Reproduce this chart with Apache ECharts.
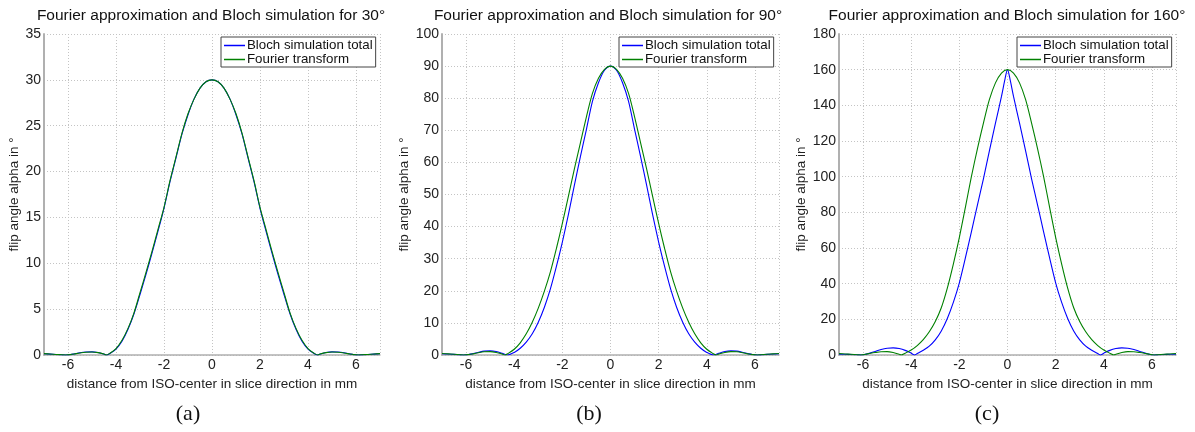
<!DOCTYPE html>
<html><head><meta charset="utf-8">
<script src="https://cdn.jsdelivr.net/npm/echarts@6/dist/echarts.min.js"></script>
<style>html,body{margin:0;padding:0;background:#fff}#c{width:1195px;height:432px}</style>
</head><body><div id="c"></div><script>
const chartTitles = ['Fourier approximation and Bloch simulation for 30°','Fourier approximation and Bloch simulation for 90°','Fourier approximation and Bloch simulation for 160°'];
const captions = ['(a)','(b)','(c)'];
const seriesNames = ['Bloch simulation total','Fourier transform'];
const xName = 'distance from ISO-center in slice direction in mm';
const yName = 'flip angle alpha in °';
const xTickLabels = [-6,-4,-2,0,2,4,6];
const xGridLines = [-7,-6,-4,-2,0,2,4,6,7];
const yMaxes = [35,100,180];
const yIntervals = [5,10,20];

const bloch30 = [[-7,0.14],[-6.75,0.1],[-6.5,0.05],[-6.25,0.01],[-6.08,0],[-5.9,0.04],[-5.75,0.11],[-5.5,0.24],[-5.25,0.32],[-5,0.34],[-4.75,0.27],[-4.5,0.1],[-4.39,0],[-4.25,0.18],[-4,0.65],[-3.75,1.5],[-3.5,2.8],[-3.25,4.5],[-3,6.6],[-2.75,8.8],[-2.5,11.1],[-2.25,13.5],[-2,16.0],[-1.75,18.9],[-1.5,21.5],[-1.25,24.1],[-1,26.2],[-0.75,27.9],[-0.5,29.1],[-0.25,29.8],[0,30],
 [0.25,29.8],[0.5,29.1],[0.75,27.9],[1,26.2],[1.25,24.1],[1.5,21.5],[1.75,18.9],[2,16.0],[2.25,13.5],[2.5,11.1],[2.75,8.8],[3,6.6],[3.25,4.5],[3.5,2.8],[3.75,1.5],[4,0.65],[4.25,0.18],[4.39,0],[4.5,0.1],[4.75,0.27],[5,0.34],[5.25,0.32],[5.5,0.24],[5.75,0.11],[5.9,0.04],[6.08,0],[6.25,0.01],[6.5,0.05],[6.75,0.1],[7,0.14]];
const fourier30 = [[-7,0.15],[-6.75,0.11],[-6.5,0.06],[-6.25,0.02],[-6.1,0],[-5.9,0.04],[-5.75,0.1],[-5.5,0.22],[-5.25,0.3],[-5,0.33],[-4.75,0.26],[-4.5,0.1],[-4.41,0],[-4.25,0.2],[-4,0.7],[-3.75,1.6],[-3.5,2.9],[-3.25,4.6],[-3,6.8],[-2.75,9.0],[-2.5,11.3],[-2.25,13.7],[-2,16.1],[-1.75,19.0],[-1.5,21.6],[-1.25,24.2],[-1,26.3],[-0.75,27.9],[-0.5,29.1],[-0.25,29.8],[0,30],
 [0.25,29.8],[0.5,29.1],[0.75,27.9],[1,26.3],[1.25,24.2],[1.5,21.6],[1.75,19.0],[2,16.1],[2.25,13.7],[2.5,11.3],[2.75,9.0],[3,6.8],[3.25,4.6],[3.5,2.9],[3.75,1.6],[4,0.7],[4.25,0.2],[4.41,0],[4.5,0.1],[4.75,0.26],[5,0.33],[5.25,0.3],[5.5,0.22],[5.75,0.1],[5.9,0.04],[6.1,0],[6.25,0.02],[6.5,0.06],[6.75,0.11],[7,0.15]];
const bloch90 = [[-7,0.4],[-6.75,0.3],[-6.5,0.18],[-6.25,0.05],[-6.1,0],[-5.9,0.15],[-5.75,0.35],[-5.5,0.8],[-5.25,1.2],[-5,1.3],[-4.75,1.1],[-4.5,0.55],[-4.29,0],[-4,0.8],[-3.75,2.1],[-3.5,4.0],[-3.25,6.6],[-3,10.2],[-2.75,14.8],[-2.5,20.5],[-2.25,27.5],[-2,35.2],[-1.75,43.7],[-1.5,52.9],[-1.25,61.8],[-1,70.3],[-0.75,79],[-0.5,84.8],[-0.25,88.7],[0,90],
 [0.25,88.7],[0.5,84.8],[0.75,79],[1,70.3],[1.25,61.8],[1.5,52.9],[1.75,43.7],[2,35.2],[2.25,27.5],[2.5,20.5],[2.75,14.8],[3,10.2],[3.25,6.6],[3.5,4.0],[3.75,2.1],[4,0.8],[4.29,0],[4.5,0.55],[4.75,1.1],[5,1.3],[5.25,1.2],[5.5,0.8],[5.75,0.35],[5.9,0.15],[6.1,0],[6.25,0.05],[6.5,0.18],[6.75,0.3],[7,0.4]];
const fourier90 = [[-7,0.45],[-6.75,0.35],[-6.5,0.22],[-6.25,0.07],[-6.1,0],[-5.9,0.12],[-5.75,0.3],[-5.5,0.7],[-5.25,1.0],[-5,1.05],[-4.75,0.8],[-4.5,0.3],[-4.38,0],[-4.25,0.5],[-4,1.8],[-3.75,3.8],[-3.5,6.6],[-3.25,10.2],[-3,14.6],[-2.75,19.8],[-2.5,25.8],[-2.25,33.1],[-2,41],[-1.75,49.4],[-1.5,58],[-1.25,66.1],[-1,74.2],[-0.75,81.5],[-0.5,86.2],[-0.25,89],[0,90],
 [0.25,89],[0.5,86.2],[0.75,81.5],[1,74.2],[1.25,66.1],[1.5,58],[1.75,49.4],[2,41],[2.25,33.1],[2.5,25.8],[2.75,19.8],[3,14.6],[3.25,10.2],[3.5,6.6],[3.75,3.8],[4,1.8],[4.25,0.5],[4.38,0],[4.5,0.3],[4.75,0.8],[5,1.05],[5.25,1.0],[5.5,0.7],[5.75,0.3],[5.9,0.12],[6.1,0],[6.25,0.07],[6.5,0.22],[6.75,0.35],[7,0.45]];
const bloch160 = [[-7,0.5],[-6.75,0.4],[-6.5,0.25],[-6.25,0.1],[-6.05,0],[-5.75,0.9],[-5.5,2.0],[-5.25,3.1],[-5,3.8],[-4.75,4.0],[-4.5,3.6],[-4.25,2.6],[-4,1.0],[-3.86,0],[-3.75,0.8],[-3.5,2.7],[-3.25,5.0],[-3,8.5],[-2.75,13.5],[-2.5,20.5],[-2.25,29.5],[-2,40.5],[-1.75,54.4],[-1.5,69.1],[-1.25,84.1],[-1,98.8],[-0.75,114.6],[-0.5,130],[-0.25,145],[-0.1,155],[0,160],
 [0.1,155],[0.25,145],[0.5,130],[0.75,114.6],[1,98.8],[1.25,84.1],[1.5,69.1],[1.75,54.4],[2,40.5],[2.25,29.5],[2.5,20.5],[2.75,13.5],[3,8.5],[3.25,5.0],[3.5,2.7],[3.75,0.8],[3.86,0],[4,1.0],[4.25,2.6],[4.5,3.6],[4.75,4.0],[5,3.8],[5.25,3.1],[5.5,2.0],[5.75,0.9],[6.05,0],[6.25,0.1],[6.5,0.25],[6.75,0.4],[7,0.5]];
const fourier160 = [[-7,0.75],[-6.75,0.6],[-6.5,0.38],[-6.25,0.12],[-6.1,0],[-5.9,0.4],[-5.75,0.8],[-5.5,1.4],[-5.25,1.85],[-5,1.9],[-4.75,1.4],[-4.5,0.45],[-4.42,0],[-4.25,1.0],[-4,2.8],[-3.75,5.3],[-3.5,8.6],[-3.25,13.0],[-3,18.8],[-2.75,26.5],[-2.5,37.5],[-2.25,51],[-2,66],[-1.75,82.8],[-1.5,100],[-1.25,115.6],[-1,130],[-0.75,143.3],[-0.5,152.6],[-0.25,158.1],[0,160],
 [0.25,158.1],[0.5,152.6],[0.75,143.3],[1,130],[1.25,115.6],[1.5,100],[1.75,82.8],[2,66],[2.25,51],[2.5,37.5],[2.75,26.5],[3,18.8],[3.25,13.0],[3.5,8.6],[3.75,5.3],[4,2.8],[4.25,1.0],[4.42,0],[4.5,0.45],[4.75,1.4],[5,1.9],[5.25,1.85],[5.5,1.4],[5.75,0.8],[5.9,0.4],[6.1,0],[6.25,0.12],[6.5,0.38],[6.75,0.6],[7,0.75]];

const panelBloch = [bloch30, bloch90, bloch160];
const panelFourier = [fourier30, fourier90, fourier160];

// layout (pixels)
const gridLeft = [44, 442, 839];
const gridRight = [380, 779, 1176];
const gridTop = 34, gridBottom = 355;
const titleX = [211, 608, 1007];
const captionX = [188, 589, 987];
const legendLeft = [221, 619, 1017];
const yNameGap = [15, 24, 24];

const FONT = 'Liberation Sans, Arial, sans-serif';
const grids = [], xAxes = [], yAxes = [], series = [], legends = [], graphics = [];
for (let i = 0; i < 3; i++) {
  grids.push({left: gridLeft[i], width: gridRight[i] - gridLeft[i], top: gridTop, height: gridBottom - gridTop});
  xAxes.push({
    type: 'value', gridIndex: i, min: -7, max: 7,
    name: xName, nameLocation: 'middle', nameGap: 18,
    nameTextStyle: {fontFamily: FONT, fontSize: 13.5, color: '#222'},
    axisLine: {show: true, onZero: false, lineStyle: {color: '#b0b0b0', width: 1.5}},
    axisTick: {show: false, customValues: xGridLines},
    axisLabel: {customValues: xTickLabels, fontFamily: FONT, fontSize: 14, color: '#222', margin: 3},
    splitLine: {show: true, lineStyle: {color: '#c4c4c4', type: [1, 2], width: 1}}
  });
  yAxes.push({
    type: 'value', gridIndex: i, min: 0, max: yMaxes[i], interval: yIntervals[i],
    name: yName, nameLocation: 'middle', nameGap: yNameGap[i], nameRotate: 90,
    nameTextStyle: {fontFamily: FONT, fontSize: 13.5, color: '#222'},
    axisLine: {show: true, onZero: false, lineStyle: {color: '#b0b0b0', width: 2}},
    axisTick: {show: false},
    axisLabel: {fontFamily: FONT, fontSize: 14, color: '#222', margin: 3},
    splitLine: {show: true, lineStyle: {color: '#c4c4c4', type: [1, 2], width: 1}}
  });
  series.push({
    name: seriesNames[0], type: 'line', xAxisIndex: i, yAxisIndex: i,
    data: panelBloch[i], showSymbol: false, smooth: 0.3, lineStyle: {color: '#0000ff', width: 1.1},
    itemStyle: {color: '#0000ff'}, z: 3
  });
  series.push({
    name: seriesNames[1], type: 'line', xAxisIndex: i, yAxisIndex: i,
    data: panelFourier[i], showSymbol: false, smooth: 0.3, lineStyle: {color: '#008000', width: 1.1},
    itemStyle: {color: '#008000'}, z: 4
  });
  legends.push({
    data: seriesNames, left: legendLeft[i], top: 37, orient: 'vertical',
    icon: 'rect', itemWidth: 21, itemHeight: 1.5, itemGap: 1,
    padding: [2, 3, 1, 3], borderColor: '#444', borderWidth: 1, borderRadius: 0,
    backgroundColor: '#fff', selectedMode: false, z: 10,
    textStyle: {fontFamily: FONT, fontSize: 13.3, color: '#111', padding: [1, 0, 0, -3]}
  });
  graphics.push({type: 'text', x: titleX[i], y: 16, z: 10,
    style: {text: chartTitles[i], font: '15.5px ' + FONT, fill: '#111', textAlign: 'center', textVerticalAlign: 'middle'}});
  graphics.push({type: 'text', x: captionX[i], y: 414, z: 10,
    style: {text: captions[i], font: '22px "Liberation Serif", "DejaVu Serif", serif', fill: '#111', textAlign: 'center', textVerticalAlign: 'middle'}});
}

const chart = echarts.init(document.getElementById('c'), null, {renderer: 'canvas'});
chart.setOption({
  animation: false,
  backgroundColor: '#fff',
  grid: grids, xAxis: xAxes, yAxis: yAxes, series: series, legend: legends, graphic: graphics
});
</script></body></html>
